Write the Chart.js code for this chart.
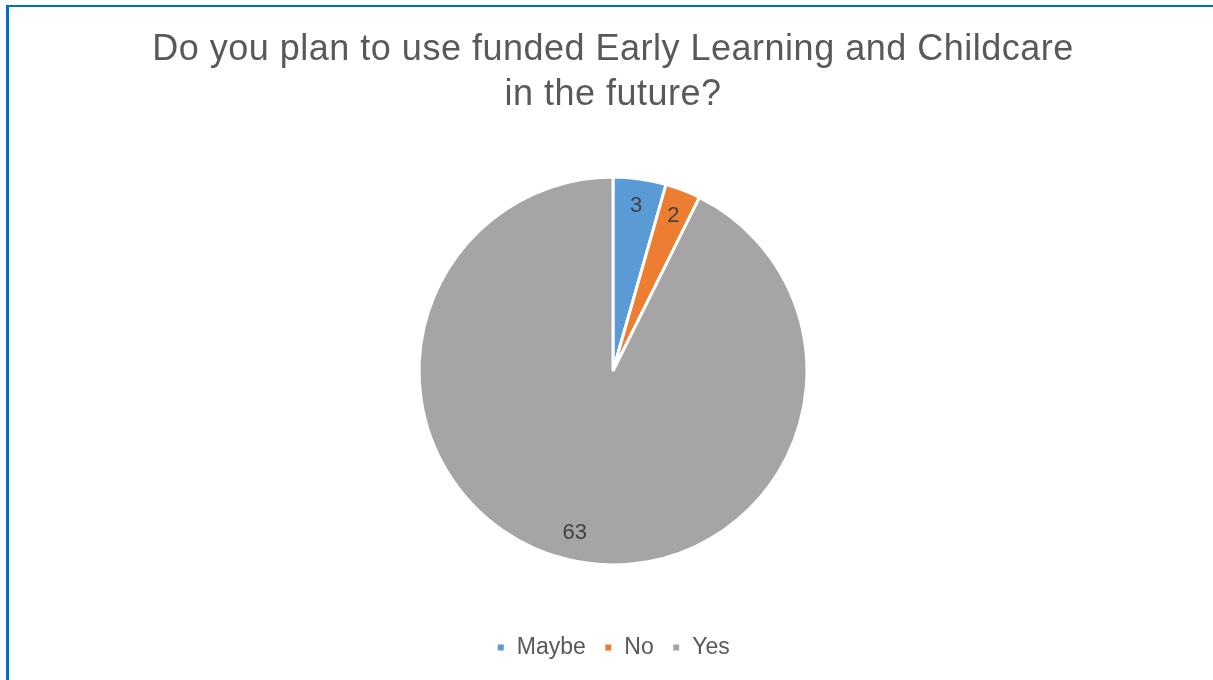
<!DOCTYPE html>
<html>
<head>
<meta charset="utf-8">
<script src="https://cdn.jsdelivr.net/npm/chart.js@4"></script>
<style>
  html, body { margin: 0; padding: 0; background: #fff; }
  #frame {
    position: absolute;
    left: 6px; top: 5px; right: 0; bottom: 0;
    border-left: 3px solid #0070c0;
    border-top: 2px solid #0070c0;
  }
  #chart { display: block; }
</style>
</head>
<body>
<div id="frame"><canvas id="chart" width="1204" height="673"></canvas></div>
<script>
const titleLines = ["Do you plan to use funded Early Learning and Childcare", "in the future?"];
const categories = ["Maybe", "No", "Yes"];
const counts = [3, 2, 63];
const sliceColors = ["#5b9bd5", "#ed7d31", "#a5a5a5"];

const FONT = "'Liberation Sans', Arial, sans-serif";

// values written inside each slice, near the outer edge
const sliceLabels = {
  id: "sliceLabels",
  afterDatasetsDraw(chart) {
    const ctx = chart.ctx;
    const meta = chart.getDatasetMeta(0);
    ctx.save();
    ctx.font = "22px " + FONT;
    ctx.fillStyle = "#404040";
    ctx.textAlign = "center";
    ctx.textBaseline = "middle";
    meta.data.forEach((arc, i) => {
      const p = arc.getProps(["x", "y", "startAngle", "endAngle", "outerRadius"], true);
      const mid = (p.startAngle + p.endAngle) / 2;
      const r = p.outerRadius * 0.86;
      ctx.fillText(String(counts[i]), p.x + Math.cos(mid) * r, p.y + Math.sin(mid) * r);
    });
    ctx.restore();
  }
};

// the title in the original is set a touch wider than plain Arial
const wideTitle = {
  id: "wideTitle",
  afterLayout(chart) {
    const tb = chart.titleBlock;
    if (!tb || tb._wide) return;
    const orig = tb.draw.bind(tb);
    tb.draw = function () {
      const c = this.ctx;
      c.save();
      c.letterSpacing = "0.5px";
      orig();
      c.restore();
    };
    tb._wide = true;
  }
};

new Chart(document.getElementById("chart"), {
  type: "pie",
  data: {
    labels: categories,
    datasets: [{
      data: counts,
      backgroundColor: sliceColors,
      borderColor: "#ffffff",
      borderWidth: 3,
      radius: "79%"
    }]
  },
  options: {
    responsive: false,
    animation: false,
    layout: { padding: { top: 0, bottom: 11, left: 4, right: 0 } },
    plugins: {
      title: {
        display: true,
        text: titleLines,
        color: "#595959",
        font: { family: FONT, size: 36, weight: "normal", lineHeight: 1.25 },
        padding: { top: 21, bottom: 6 }
      },
      legend: {
        position: "bottom",
        labels: {
          color: "#595959",
          font: { family: FONT, size: 23 },
          boxWidth: 9,
          boxHeight: 9,
          padding: 18
        }
      },
      tooltip: { enabled: false }
    }
  },
  plugins: [sliceLabels, wideTitle]
});
</script>
</body>
</html>
